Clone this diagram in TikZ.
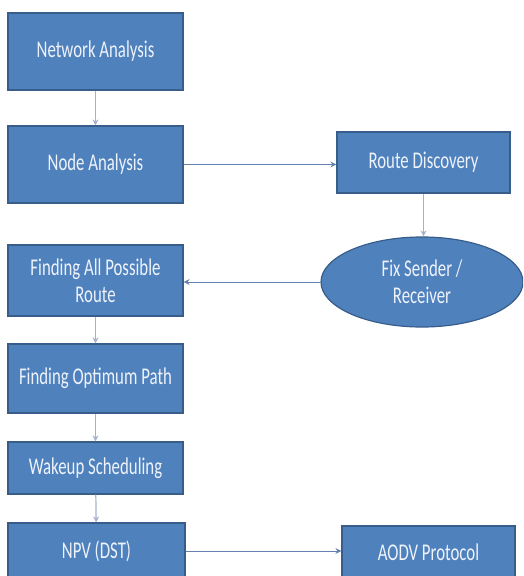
\documentclass[tikz,border=0pt]{standalone}
\usepackage{fontspec}
\setmainfont{Carlito}[FakeStretch=0.7]
\usetikzlibrary{arrows.meta,shapes.geometric}
\definecolor{boxfill}{HTML}{4F81BD}
\definecolor{boxline}{HTML}{385D8A}
\definecolor{vline}{HTML}{A3B3CC}
\definecolor{hline}{HTML}{6582AE}
\definecolor{txt}{HTML}{EEF2FA}
\tikzset{
  box/.style={rectangle, draw=boxline, line width=1.2pt, fill=boxfill, text=txt,
    font=\fontsize{24}{27}\selectfont, align=center, inner sep=2pt},
  oval/.style={ellipse, draw=boxline, line width=1.2pt, fill=boxfill, text=txt,
    font=\fontsize{24}{27}\selectfont, align=center, inner sep=0pt},
  vconn/.style={draw=vline, line width=1.2pt, -{Stealth[length=6pt,width=6pt]}},
  hconn/.style={draw=hline, line width=1pt, -{Stealth[length=6pt,width=6pt]}}
}
\begin{document}
\begin{tikzpicture}[x=1pt,y=-1pt]
\useasboundingbox (0,0) rectangle (523,576);
\clip (0,0) rectangle (523,576);
\fill[white] (0,0) rectangle (523,576);
\node[box, minimum width=175pt, minimum height=77pt] (na) at (95.5,51.5) {Network Analysis};
\node[box, minimum width=175pt, minimum height=77pt] (nd) at (95.5,164.5) {Node Analysis};
\node[box, minimum width=173pt, minimum height=61pt] (rd) at (423.5,162.5) {Route Discovery};
\node[oval, minimum width=202pt, minimum height=90pt] (fx) at (422,282) {Fix Sender /\\Receiver};
\node[box, minimum width=175pt, minimum height=71pt] (fa) at (95.5,280.5) {Finding All Possible\\Route};
\node[box, minimum width=175pt, minimum height=69pt] (fo) at (95.5,378.5) {Finding Optimum Path};
\node[box, minimum width=175pt, minimum height=52pt] (wk) at (95.5,468) {Wakeup Scheduling};
\node[box, minimum width=177pt, minimum height=56pt] (np) at (96.5,551) {NPV (DST)};
\node[box, minimum width=173pt, minimum height=52pt] (ao) at (428.5,552) {AODV Protocol};
\draw[vconn] (na) -- (nd);
\draw[hconn] (nd.east) -- (nd.east -| rd.west);
\draw[vconn] (rd) -- (rd |- fx.north);
\draw[hconn] (fx.west) -- (fx.west -| fa.east);
\draw[vconn] (fa) -- (fo);
\draw[vconn] (fo) -- (wk);
\draw[vconn] (wk) -- (np);
\draw[hconn] (np.east) -- (np.east -| ao.west);
\end{tikzpicture}
\end{document}
